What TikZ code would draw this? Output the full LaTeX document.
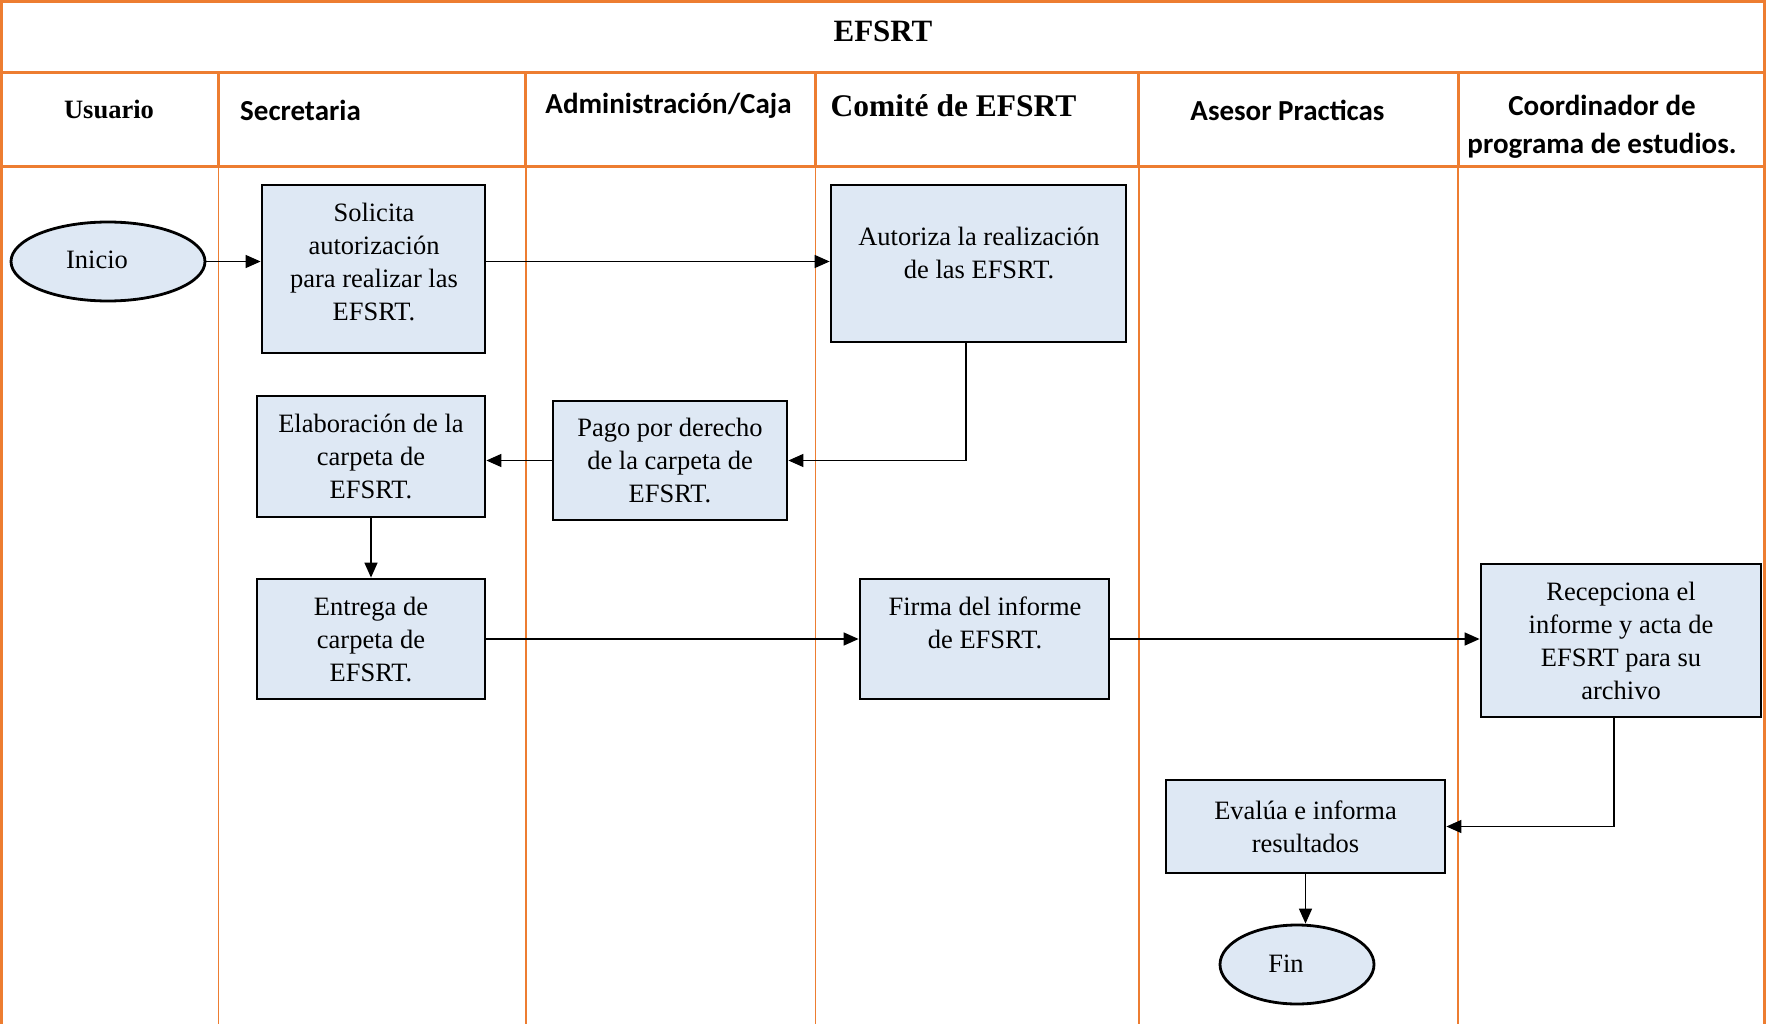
\documentclass[tikz,border=0pt]{standalone}
\usepackage{fontspec}
\setmainfont{Liberation Serif}
\newfontfamily\calibfont{Carlito}
\usetikzlibrary{arrows.meta,shapes.geometric}
\definecolor{laneorange}{HTML}{ED7D31}
\definecolor{boxblue}{HTML}{DEE8F4}
\begin{document}
\begin{tikzpicture}[x=1pt,y=-1pt,
  lane/.style={draw=laneorange,line width=1.2pt},
  cell/.style={draw=laneorange,line width=3pt},
  proc/.style={draw=black,fill=boxblue,line width=2.8pt,inner sep=0pt,align=center,
    font=\fontsize{26.5}{33}\selectfont},
  term/.style={ellipse,draw=black,fill=boxblue,line width=2.8pt,inner sep=0pt},
  txt/.style={align=center,inner sep=0pt,font=\fontsize{26.5}{33}\selectfont},
  headserif/.style={inner sep=0pt,font=\bfseries\fontsize{26.5}{32}\selectfont},
  headsans/.style={inner sep=0pt,align=center,font=\calibfont\bfseries\fontsize{29}{38}\selectfont},
  flow/.style={line width=1.5pt,-{Triangle[length=15pt,width=13pt]}}]
\useasboundingbox (0,0) rectangle (1766,1024);
\fill[white] (0,0) rectangle (1766,1024);

% swimlane bodies
\foreach \lx in {218.5,526,815.5,1139,1458}
  \draw[lane] (\lx,167) -- (\lx,1024);
\draw[cell] (1.5,167) -- (1.5,1024);
\draw[cell] (1764.5,167) -- (1764.5,1024);

% title row and lane headers
\draw[cell] (1.5,1.5) rectangle (1764.5,73);
\draw[cell] (1.5,73) rectangle (218,167);
\draw[cell] (218,73) rectangle (525,167);
\draw[cell] (525,73) rectangle (815,167);
\draw[cell] (815,73) rectangle (1138,167);
\draw[cell] (1138,73) rectangle (1458,167);
\draw[cell] (1458,73) rectangle (1764.5,167);

\node[inner sep=0pt,font=\bfseries\fontsize{31}{36}\selectfont] (title) at (883,31) {EFSRT};
\node[headserif] (hUsu) at (109,109) {Usuario};
\node[headsans,anchor=west] (hSec) at (240,110) {Secretaria};
\node[headsans] (hAdm) at (668.5,106) {Administración/Caja};
\node[inner sep=0pt,font=\bfseries\fontsize{31.5}{36}\selectfont] (hCom) at (953.5,106) {Comité de EFSRT};
\node[headsans] (hAse) at (1287.5,110) {Asesor Practicas};
\node[headsans] (hCoo) at (1602,127) {Coordinador de\\programa de estudios.};

% process steps
\node[term,minimum width=194pt,minimum height=79pt] (ini) at (108,261.5) {};
\node[txt] (iniT) at (97,260) {Inicio};

\node[proc,minimum width=223pt,minimum height=168pt] (sol) at (373.5,269) {};
\node[txt] (solT) at (374,261.5) {Solicita\\autorización\\para realizar las\\EFSRT.};

\node[proc,minimum width=295pt,minimum height=157pt] (aut) at (978.5,263.5) {};
\node[txt] (autT) at (979,253) {Autoriza la realización\\de las EFSRT.};

\node[proc,minimum width=228pt,minimum height=121pt] (elab) at (371,456.5)
  {Elaboración de la\\carpeta de\\EFSRT.};
\node[proc,minimum width=234pt,minimum height=119pt] (pago) at (670,460.5)
  {Pago por derecho\\de la carpeta de\\EFSRT.};
\node[proc,minimum width=228pt,minimum height=120pt] (ent) at (371,639)
  {Entrega de\\carpeta de\\EFSRT.};

\node[proc,minimum width=249pt,minimum height=120pt] (fir) at (984.5,639) {};
\node[txt] (firT) at (985,622.5) {Firma del informe\\de EFSRT.};

\node[proc,minimum width=280pt,minimum height=153pt] (rec) at (1621,640.5)
  {Recepciona el\\informe y acta de\\EFSRT para su\\archivo};
\node[proc,minimum width=279pt,minimum height=93pt] (eva) at (1305.5,826.5)
  {Evalúa e informa\\resultados};

\node[term,minimum width=154pt,minimum height=79pt] (fin) at (1297,964.5) {};
\node[txt] (finT) at (1286,964) {Fin};

% connectors
\draw[flow] (ini) -- (ini -| sol.west);
\draw[flow] (sol.east |- ini) -- (aut.west |- ini);
\draw[flow] ([xshift=-12.5pt]aut.south) |- (pago.east);
\draw[flow] (pago.west) -- (pago.west -| elab.east);
\draw[flow] (elab) -- (ent);
\draw[flow] (ent) -- (fir);
\draw[flow] (fir.east) -- (fir.east -| rec.west);
\draw[flow] ([xshift=-7pt]rec.south) |- (eva.east);
\draw[flow] (eva.south) -- (eva.south |- fin.north);
\end{tikzpicture}
\end{document}
